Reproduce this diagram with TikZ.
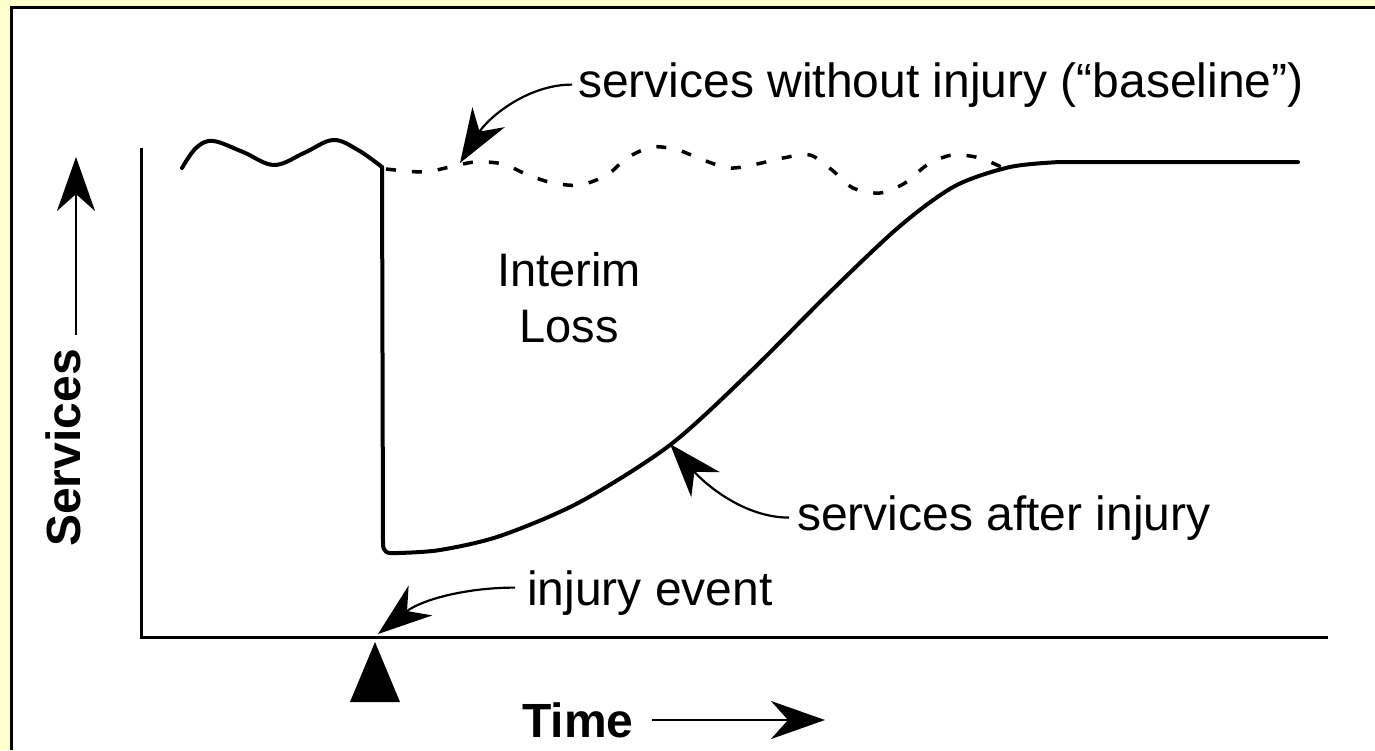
\documentclass[tikz,border=0pt]{standalone}
\usepackage{fontspec}
\setmainfont{Liberation Sans}
\usetikzlibrary{arrows.meta}
\definecolor{bgyel}{RGB}{255,255,204}
\begin{document}
\begin{tikzpicture}[x=1pt,y=-1pt,
  lbl/.style={inner sep=0pt, font=\fontsize{48}{56}\selectfont},
  boldlbl/.style={inner sep=0pt, font=\fontsize{48}{56}\selectfont\bfseries},
  pointer/.style={line width=2.2pt, -{Stealth[length=54pt,width=38pt,inset=17pt]}},
  curve/.style={line width=4pt, line join=round, line cap=round},
  basedash/.style={line width=3.5pt, dash pattern=on 10pt off 16pt},
  axis/.style={line width=3pt}]
\useasboundingbox (0,0) rectangle (1375,750);
% frame
\fill[bgyel] (0,0) rectangle (1375,750);
\fill[white] (10,6) rectangle (1375,750);
\draw[line width=3pt] (11.5,750) -- (11.5,7.5) -- (1375,7.5);
% axes
\coordinate (O) at (141,637);
\coordinate (ytop) at (141,148);
\coordinate (xend) at (1328,637);
\draw[axis] (ytop) -- (O) -- (xend);
% curves
\coordinate (drop) at (382,167);
\draw[curve] plot[smooth, tension=0.6] coordinates {(182,168) (196,148) (213,141) (243,152) (274,165) (304,153) (333,140) (358,150) (382,167)};
\draw[basedash] plot[smooth] coordinates {(386,169) (423,172) (450,167) (475,162) (503,164) (528,175) (553,183) (580,185) (607,175) (627,158) (652,147) (678,150) (703,160) (730,168) (757,164) (783,158) (810,155) (832,170) (853,188) (880,193) (905,183) (927,165) (952,155) (980,158) (1003,168)};
\draw[curve] (drop) -- (383,543) .. controls (383,552) and (386,554) .. (398,553)
  -- plot[smooth] coordinates {(398,553) (440,550) (500,536) (580,502) (670,445) (750,372) (830,292) (900,226) (955,186) (1010,167) (1060,162)} -- (1298,162);
% tip points
\coordinate (tipbl) at (460,163);
\coordinate (tipai) at (670,444);
\coordinate (tipie) at (378,634);
\coordinate (ytip) at (76,157);
\coordinate (xtip) at (825,720);
% labels
\node[lbl, anchor=base west] (bl) at (578,97) {services without injury (“baseline”)};
\node[lbl, anchor=base, font=\fontsize{47}{56}\selectfont] (interim) at (569,286) {Interim};
\node[lbl, anchor=base, font=\fontsize{47}{56}\selectfont] (loss) at (569,342) {Loss};
\node[lbl, anchor=base west] (ai) at (797,530) {services after injury};
\node[lbl, anchor=base west] (ie) at (527,605) {injury event};
\node[boldlbl, anchor=base west] (time) at (522,737) {Time};
\node[boldlbl, rotate=90, anchor=base] (svc) at (80,448) {Services};
% pointers
\draw[pointer] ([xshift=-6pt]bl.west) .. controls +(-45,0) and +(28,-45) .. (tipbl);
\draw[pointer] ([xshift=-8pt]ai.west) .. controls +(-45,0) and +(35,40) .. (tipai);
\draw[pointer] ([xshift=-12pt,yshift=5pt]ie.west) .. controls +(-50,0) and +(43,-34) .. (tipie);
\path (svc.east) ++(0,-14) coordinate (ys);
\draw[pointer] (ytip |- ys) -- (ytip);
\path (time.east) ++(18,0) coordinate (ts);
\draw[pointer] (ts |- xtip) -- (xtip);
% event marker
\fill (375,642) -- (350,702) -- (400,702) -- cycle;
\end{tikzpicture}
\end{document}
